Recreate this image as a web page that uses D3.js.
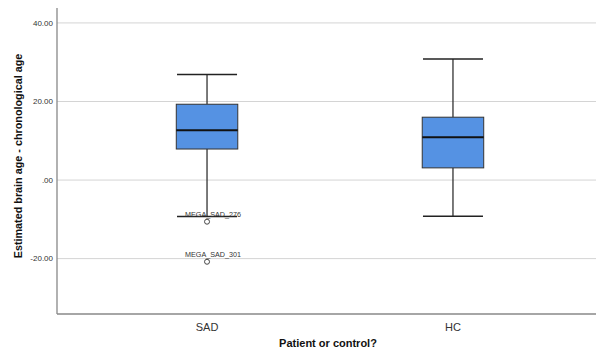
<!DOCTYPE html>
<html><head><meta charset="utf-8">
<script src="https://cdn.jsdelivr.net/npm/d3@7"></script>
<style>body{margin:0;background:#fff}</style>
</head><body>
<svg id="c" width="596" height="358"></svg>
<script>
const categories = ["SAD", "HC"];
const whiskerLow = [-9.3, -9.2];
const q1 = [7.9, 3.1];
const median = [12.7, 10.9];
const q3 = [19.3, 16.0];
const whiskerHigh = [26.9, 30.8];
const outliers = [
  {cat: "SAD", value: -10.6, label: "MEGA_SAD_276"},
  {cat: "SAD", value: -20.8, label: "MEGA_SAD_301"}
];
const yTicks = [40, 20, 0, -20];
const yTickLabels = ["40.00", "20.00", ".00", "-20.00"];

(function () {
const svg = d3.select("#c");
const mLeft = 57, mTop = 8, mBottom = 314, mRight = 603;
const x = d3.scalePoint().domain(categories).range([mLeft, mRight]).padding(0.61);
const y = d3.scaleLinear().domain([-34.1, 43.8]).range([mBottom, mTop]);
const bw = x.step() * 0.25, capW = x.step() * 0.122;
const font = "Liberation Sans, Arial, sans-serif";

// gridlines
svg.append("g").selectAll("line").data(yTicks).join("line")
  .attr("x1", mLeft).attr("x2", 596)
  .attr("y1", d => y(d)).attr("y2", d => y(d))
  .attr("stroke", "#d4d4d4").attr("stroke-width", 1);

// y tick labels
svg.append("g").selectAll("text").data(yTicks).join("text")
  .attr("x", mLeft - 4).attr("y", d => y(d)).attr("dy", "0.35em")
  .attr("text-anchor", "end").attr("font-family", font)
  .attr("font-size", 8).attr("fill", "#333")
  .text((d, i) => yTickLabels[i]);

// axes lines
svg.append("line").attr("x1", mLeft).attr("x2", mLeft).attr("y1", mTop).attr("y2", mBottom)
  .attr("stroke", "#888").attr("stroke-width", 1.3);
svg.append("line").attr("x1", mLeft).attr("x2", 596).attr("y1", mBottom).attr("y2", mBottom)
  .attr("stroke", "#888").attr("stroke-width", 1.3);

// boxes
const g = svg.append("g");
categories.forEach((c, i) => {
  const cx = x(c);
  g.append("line").attr("x1", cx).attr("x2", cx).attr("y1", y(whiskerHigh[i])).attr("y2", y(q3[i]))
    .attr("stroke", "#333").attr("stroke-width", 1.3);
  g.append("line").attr("x1", cx).attr("x2", cx).attr("y1", y(q1[i])).attr("y2", y(whiskerLow[i]))
    .attr("stroke", "#333").attr("stroke-width", 1.3);
  [whiskerHigh[i], whiskerLow[i]].forEach(v => {
    g.append("line").attr("x1", cx - capW).attr("x2", cx + capW).attr("y1", y(v)).attr("y2", y(v))
      .attr("stroke", "#222").attr("stroke-width", 1.5);
  });
  g.append("rect").attr("x", cx - bw / 2).attr("width", bw)
    .attr("y", y(q3[i])).attr("height", y(q1[i]) - y(q3[i]))
    .attr("fill", "#5592e3").attr("stroke", "#333").attr("stroke-width", 1);
  g.append("line").attr("x1", cx - bw / 2).attr("x2", cx + bw / 2).attr("y1", y(median[i])).attr("y2", y(median[i]))
    .attr("stroke", "#111").attr("stroke-width", 2);
});

// outliers
outliers.forEach(o => {
  g.append("circle").attr("cx", x(o.cat)).attr("cy", y(o.value)).attr("r", 2.5)
    .attr("fill", "#fff").attr("stroke", "#444").attr("stroke-width", 1);
  g.append("text").attr("x", x(o.cat) - 22).attr("y", y(o.value) - 5)
    .attr("text-anchor", "start").attr("font-family", font)
    .attr("font-size", 7.2).attr("fill", "#333").text(o.label);
});

// x category labels
svg.append("g").selectAll("text").data(categories).join("text")
  .attr("x", d => x(d)).attr("y", 331).attr("text-anchor", "middle")
  .attr("font-family", font).attr("font-size", 11).attr("fill", "#333")
  .text(d => d);

// titles
svg.append("text").attr("x", 328).attr("y", 347).attr("text-anchor", "middle")
  .attr("font-family", font).attr("font-size", 11).attr("font-weight", "bold")
  .attr("fill", "#111").text("Patient or control?");
svg.append("text").attr("transform", "translate(22,156) rotate(-90)").attr("text-anchor", "middle")
  .attr("font-family", font).attr("font-size", 10.8).attr("font-weight", "bold")
  .attr("fill", "#111").text("Estimated brain age - chronological age");
})();
</script>
</body></html>
